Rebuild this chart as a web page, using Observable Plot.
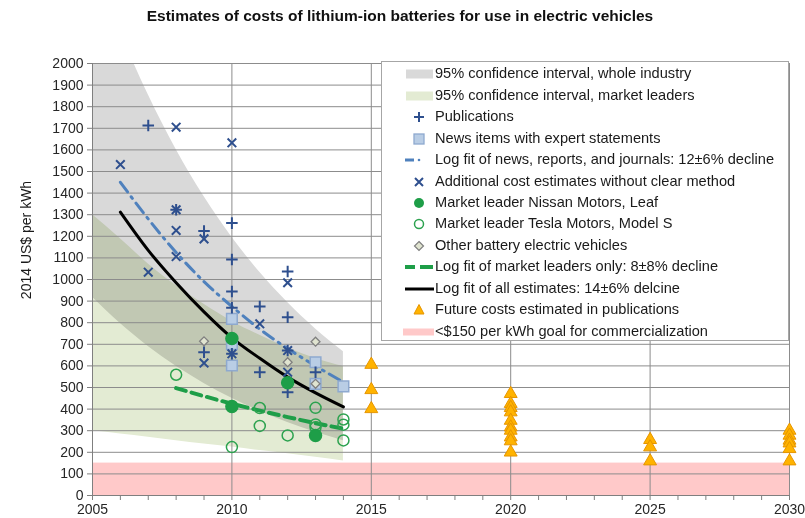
<!DOCTYPE html>
<html><head><meta charset="utf-8">
<script src="https://cdn.jsdelivr.net/npm/d3@7"></script>
<script src="https://cdn.jsdelivr.net/npm/@observablehq/plot@0.6"></script>
<style>
body{margin:0;background:#fff;font-family:"Liberation Sans",Arial,sans-serif;}
#wrap{position:relative;width:805px;height:518px;overflow:hidden;background:#fff}
#title{position:absolute;left:0;top:7px;width:800px;text-align:center;font-weight:bold;font-size:15.5px;color:#111}
#chart{position:absolute;left:0;top:40px}
#ytitle{position:absolute;left:26px;top:240px;width:0;height:0}
#ytitle span{position:absolute;left:0;top:0;transform:translate(-50%,-50%) rotate(-90deg);white-space:nowrap;font-size:14px;color:#1a1a1a}
#legend{position:absolute;left:381px;top:61px;width:406px;height:278px;background:#fff;border:1px solid #a6a6a6;font-size:14.6px;color:#1a1a1a}
.row{position:absolute;left:0;height:20px;width:400px}
.row svg{position:absolute;left:21px;top:0}
.row span{position:absolute;left:53px;top:1px;white-space:nowrap}
</style>
</head><body>
<div id="wrap">
  <div id="title">Estimates of costs of lithium-ion batteries for use in electric vehicles</div>
  <div id="chart"></div>
  <div id="ytitle"><span></span></div>
  <div id="legend"></div>
</div>
<script>
// ---- data ----
const yTicks = d3.range(0, 2001, 100);
const xMinorTicks = d3.range(2005, 2031, 1);
const xGridYears = [2010, 2015, 2020, 2025, 2030];

const bandYear   = [2005, 2006, 2007, 2008, 2009, 2010, 2011, 2012, 2013, 2014];
const grayUpper  = [2483, 2147, 1855, 1602, 1384, 1196, 1033, 893, 771, 666];
const grayLower  = [918, 796, 690, 598, 519, 450, 390, 338, 293, 254];
const greenUpper = [1300, 1189, 1072, 972, 885, 806, 742, 683, 634, 597];
const greenLower = [300, 285, 270, 254, 239, 224, 208, 193, 177, 160];

const goalStart = 2005, goalEnd = 2030, goalCost = 150;

const pubYear = [2007, 2008, 2009, 2009, 2010, 2010, 2010, 2010, 2010, 2011, 2011, 2012, 2012, 2012, 2012, 2013];
const pubCost = [1713, 1323, 1224, 663, 1261, 1093, 944, 869, 656, 875, 571, 1037, 825, 671, 478, 571];

const newsYear = [2010, 2010, 2010, 2013, 2013, 2014];
const newsCost = [818, 700, 602, 617, 517, 505];

const addYear = [2006, 2007, 2008, 2008, 2008, 2008, 2009, 2009, 2010, 2010, 2011, 2012, 2012, 2012];
const addCost = [1532, 1034, 1705, 1323, 1227, 1106, 1188, 613, 1633, 656, 795, 985, 671, 571];

const nissanYear = [2010, 2010, 2012, 2013];
const nissanCost = [727, 412, 522, 278];

const teslaYear = [2008, 2010, 2011, 2011, 2012, 2013, 2013, 2013, 2014, 2014, 2014];
const teslaCost = [559, 224, 405, 322, 278, 406, 329, 316, 352, 328, 255];

const otherYear = [2009, 2012, 2013, 2013];
const otherCost = [714, 617, 712, 517];

const fitYear    = [2006, 2007, 2008, 2009, 2010, 2011, 2012, 2013, 2014];
const fitNews    = [1450, 1280, 1125, 990, 875, 770, 680, 600, 525];
const fitAll     = [1312, 1135, 985, 850, 730, 635, 548, 475, 410];
const leaderYear = [2008, 2009, 2010, 2011, 2012, 2013, 2014];
const fitLeaders = [497, 460, 425, 393, 363, 335, 309];

const futureYear = [2015, 2015, 2015, 2020, 2020, 2020, 2020, 2020, 2020, 2020, 2020, 2020, 2020, 2025, 2025, 2025, 2030, 2030, 2030, 2030, 2030, 2030];
const futureCost = [606, 489, 401, 471, 425, 406, 386, 347, 316, 301, 270, 252, 200, 258, 224, 159, 301, 278, 255, 242, 216, 159];

const legendLabels = [
  "95% confidence interval, whole industry",
  "95% confidence interval, market leaders",
  "Publications",
  "News items with expert statements",
  "Log fit of news, reports, and journals: 12\u00b16% decline",
  "Additional cost estimates without clear method",
  "Market leader Nissan Motors, Leaf",
  "Market leader Tesla Motors, Model S",
  "Other battery electric vehicles",
  "Log fit of market leaders only: 8\u00b18% decline",
  "Log fit of all estimates: 14\u00b16% delcine",
  "Future costs estimated in publications",
  "<$150 per kWh goal for commercialization"
];
const yTitle = "2014 US$ per kWh";

// ---- colours ----
const C = {
  gray: "#d9d9d9", green: "#e3ebd3", pink: "#ffc9c9", grid: "#8c8c8c",
  blue: "#2e4f8e", news: "#b9cde5", newsStroke: "#8ea9cf", fitBlue: "#4f81bd",
  nissan: "#1e9e48", tesla: "#2ca24f", otherFill: "#e0e4d0", otherStroke: "#7f7f7f",
  tri: "#ffb300", triStroke: "#e69500"
};

const zip = (xs, ys) => xs.map((x, i) => ({x, y: ys[i]}));
const bands = bandYear.map((x, i) => ({x, gu: grayUpper[i], gl: grayLower[i], eu: greenUpper[i], el: greenLower[i]}));

const chart = Plot.plot({
  width: 805, height: 478,
  marginLeft: 92, marginRight: 16, marginTop: 23, marginBottom: 23,
  x: {domain: [2005, 2030]},
  y: {domain: [0, 2000]},
  style: {fontFamily: "'Liberation Sans', Arial, sans-serif", fontSize: "14px", color: "#262626", background: "white", overflow: "visible"},
  marks: [
    Plot.rect([{x1: goalStart, x2: goalEnd, y1: 0, y2: goalCost}], {x1: "x1", x2: "x2", y1: "y1", y2: "y2", fill: C.pink}),
    Plot.areaY(bands, {x: "x", y1: "gl", y2: "gu", fill: C.gray, curve: "monotone-x", clip: true}),
    Plot.areaY(bands, {x: "x", y1: "el", y2: "eu", fill: C.green, curve: "monotone-x", clip: true}),
    Plot.gridY(yTicks, {stroke: C.grid, strokeOpacity: 1}),
    Plot.gridX(xGridYears, {stroke: C.grid, strokeOpacity: 1}),
    Plot.ruleX([2005], {stroke: "#7f7f7f"}),
    Plot.ruleY([0], {stroke: "#7f7f7f"}),
    Plot.axisY(yTicks, {tickSize: 5, tickPadding: 4, label: null, stroke: "#7f7f7f", tickFormat: d => String(d)}),
    Plot.axisX(xMinorTicks, {tickSize: 5, tickPadding: 4, label: null, stroke: "#7f7f7f",
      tickFormat: d => (d % 5 === 0 ? String(d) : "")}),
    // fits
    Plot.line(zip(fitYear, fitNews), {x: "x", y: "y", stroke: C.fitBlue, strokeWidth: 3, strokeDasharray: "12,6,2,6", curve: "monotone-x"}),
    Plot.line(zip(fitYear, fitAll), {x: "x", y: "y", stroke: "#000", strokeWidth: 3, curve: "monotone-x"}),
    Plot.line(zip(leaderYear, fitLeaders), {x: "x", y: "y", stroke: C.nissan, strokeWidth: 4, strokeDasharray: "10,6", curve: "monotone-x"}),
    // points
    Plot.dot(zip(newsYear, newsCost), {x: "x", y: "y", symbol: "square", r: 6, fill: C.news, stroke: C.newsStroke, strokeWidth: 1.5}),
    Plot.dot(zip(otherYear, otherCost), {x: "x", y: "y", symbol: "diamond2", r: 4, fill: C.otherFill, stroke: C.otherStroke, strokeWidth: 1.3}),
    Plot.dot(zip(pubYear, pubCost), {x: "x", y: "y", symbol: "plus", r: 3.8, stroke: C.blue, strokeWidth: 2}),
    Plot.dot(zip(addYear, addCost), {x: "x", y: "y", symbol: "times", r: 4, stroke: C.blue, strokeWidth: 2}),
    Plot.dot(zip(teslaYear, teslaCost), {x: "x", y: "y", symbol: "circle", r: 5.5, fill: "none", stroke: C.tesla, strokeWidth: 1.5}),
    Plot.dot(zip(nissanYear, nissanCost), {x: "x", y: "y", symbol: "circle", r: 6, fill: C.nissan, stroke: C.nissan}),
    Plot.dot(zip(futureYear, futureCost), {x: "x", y: "y", symbol: "triangle", r: 4.8, fill: C.tri, stroke: C.triStroke, strokeWidth: 1})
  ]
});
// darken the overlap of the two confidence bands (multiply blend)
const areas = chart.querySelectorAll('g[aria-label="area"]');
if (areas.length > 1) areas[1].style.mixBlendMode = "multiply";
document.getElementById("chart").appendChild(chart);
document.querySelector("#ytitle span").textContent = yTitle;

// ---- legend ----
const icons = [
  `<rect x="3" y="5.5" width="27" height="9" fill="${C.gray}"/>`,
  `<rect x="3" y="5.5" width="27" height="9" fill="${C.green}"/>`,
  `<path d="M11,10H21M16,5V15" stroke="${C.blue}" stroke-width="2"/>`,
  `<rect x="11" y="5" width="10" height="10" fill="${C.news}" stroke="${C.newsStroke}" stroke-width="1.3"/>`,
  `<path d="M2,10H11" stroke="${C.fitBlue}" stroke-width="3"/><circle cx="16" cy="10" r="1.3" fill="${C.fitBlue}"/>`,
  `<path d="M12,6L20,14M20,6L12,14" stroke="${C.blue}" stroke-width="2"/>`,
  `<circle cx="16" cy="10" r="5" fill="${C.nissan}"/>`,
  `<circle cx="16" cy="10" r="4.5" fill="none" stroke="${C.tesla}" stroke-width="1.5"/>`,
  `<path d="M16,5.5L20.5,10L16,14.5L11.5,10Z" fill="${C.otherFill}" stroke="${C.otherStroke}" stroke-width="1.2"/>`,
  `<path d="M2,10H12M17,10H30" stroke="${C.nissan}" stroke-width="4"/>`,
  `<path d="M2,10H31" stroke="#000" stroke-width="3"/>`,
  `<path d="M16,4.5L21,14H11Z" fill="${C.tri}" stroke="${C.triStroke}" stroke-width="1"/>`,
  `<path d="M0,10H31" stroke="${C.pink}" stroke-width="7"/>`
];
const leg = document.getElementById("legend");
legendLabels.forEach((lab, i) => {
  const row = document.createElement("div");
  row.className = "row";
  row.style.top = (2.3 + i * 21.45) + "px";
  row.innerHTML = `<svg width="34" height="20">${icons[i]}</svg><span></span>`;
  row.querySelector("span").textContent = lab;
  leg.appendChild(row);
});
</script>
</body></html>
